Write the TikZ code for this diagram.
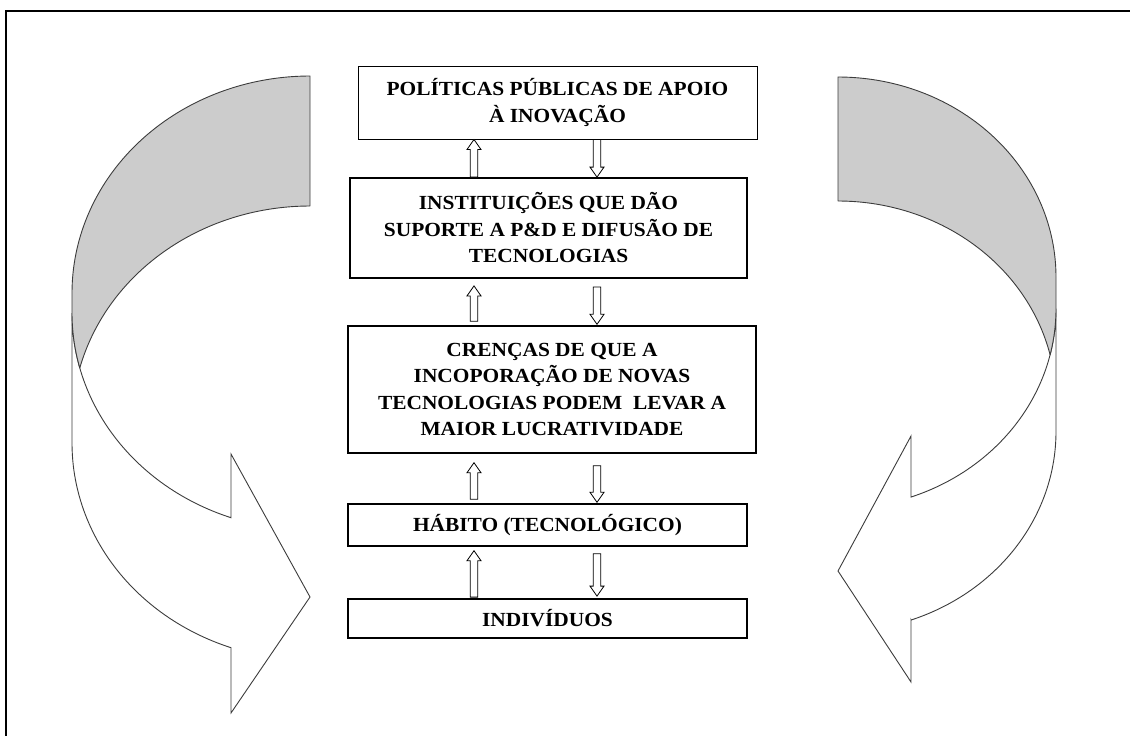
\documentclass[tikz,border=0pt]{standalone}
\usepackage{fontspec}
\setmainfont{Liberation Serif}[FakeStretch=1.07]
\usetikzlibrary{calc}
\definecolor{bandgray}{RGB}{204,204,204}
\definecolor{bandline}{RGB}{60,60,60}
\newcommand\blkup[4]{%
  \path ($(#1 -| xu)+(0,#2)$) coordinate (ub) ($(#3 -| xu)+(0,#4)$) coordinate (ut);
  \draw[blk] ($(ub)+(-3.7,0)$) -- ($(ut)+(-3.7,10)$) -- ($(ut)+(-7,10)$) -- (ut)
    -- ($(ut)+(7,10)$) -- ($(ut)+(3.7,10)$) -- ($(ub)+(3.7,0)$) -- cycle;}
\newcommand\blkdown[4]{%
  \path ($(#1 -| xd)+(0,#2)$) coordinate (db) ($(#3 -| xd)+(0,#4)$) coordinate (dt);
  \draw[blk] ($(db)+(-3.7,0)$) -- ($(dt)+(-3.7,-10)$) -- ($(dt)+(-7,-10)$) -- (dt)
    -- ($(dt)+(7,-10)$) -- ($(dt)+(3.7,-10)$) -- ($(db)+(3.7,0)$) -- cycle;}
\tikzset{
  tbox/.style={draw=black, line width=1.4pt, fill=white, inner sep=0pt, align=center,
    font=\bfseries\fontsize{20}{26.5}\selectfont},
  blk/.style={draw=black, line width=0.8pt, fill=white},
  backband/.style={draw=bandline, line width=0.9pt, fill=bandgray, line join=round},
  frontband/.style={draw=bandline, line width=0.9pt, fill=white, line join=miter},
  frame/.style={draw=black, line width=2pt}
}
\begin{document}
\begin{tikzpicture}[x=1pt,y=-1pt]
\useasboundingbox (0,0) rectangle (1130,736);
% frame (top and left edges)
\draw[frame] (6,736) -- (6,11) -- (1130,11);

% left curved arrow
\draw[frontband] (310,597) -- (231,713) -- (231,648)
  -- plot[domain=109.4:180, samples=60] ({310+238*cos(\x)},{443+217*sin(\x)})
  -- plot[domain=180:109.4, samples=60] ({310+238*cos(\x)},{313+217*sin(\x)})
  -- (231,454) -- cycle;
\draw[backband] plot[domain=270:180, samples=70] ({310+238*cos(\x)},{293+217*sin(\x)})
  -- plot[domain=180:165.32, samples=12] ({310+238*cos(\x)},{313+217*sin(\x)})
  -- plot[domain=194.68:270, samples=60] ({310+238*cos(\x)},{423+217*sin(\x)})
  -- cycle;

% right curved arrow
\draw[frontband] (838,571) -- (911,682) -- (911,620)
  -- plot[domain=70.43:0, samples=60] ({838+218*cos(\x)},{431.6+200*sin(\x)})
  -- plot[domain=0:70.43, samples=60] ({838+218*cos(\x)},{308.6+200*sin(\x)})
  -- (911,436) -- cycle;
\draw[backband] plot[domain=270:360, samples=70] ({838+218*cos(\x)},{277+200*sin(\x)})
  -- plot[domain=0:13.36, samples=12] ({838+218*cos(\x)},{308.6+200*sin(\x)})
  -- plot[domain=346.64:270, samples=60] ({838+218*cos(\x)},{401+200*sin(\x)})
  -- cycle;

% boxes
\node[tbox, line width=1pt, minimum width=399pt, minimum height=73pt] (b1) at (557.5,102.5)
  {POLÍTICAS PÚBLICAS DE APOIO\\À INOVAÇÃO};
\node[tbox, line width=1.8pt, minimum width=397pt, minimum height=100pt] (b2) at (548.5,228)
  {INSTITUIÇÕES QUE DÃO\\SUPORTE A P\&D E DIFUSÃO DE\\TECNOLOGIAS};
\node[tbox, minimum width=408pt, minimum height=127pt] (b3) at (552,389.5)
  {CRENÇAS DE QUE A\\INCOPORAÇÃO DE NOVAS\\TECNOLOGIAS PODEM\ \ LEVAR A\\MAIOR LUCRATIVIDADE};
\node[tbox, minimum width=399pt, minimum height=42pt] (b4) at (547.5,525)
  {HÁBITO (TECNOLÓGICO)};
\node[tbox, line width=1.8pt, minimum width=399pt, minimum height=39pt] (b5) at (547.5,618.5)
  {INDIVÍDUOS};

% block connectors
\coordinate (xu) at (474,0);
\coordinate (xd) at (597,0);
\blkup{b2.north}{0}{b1.south}{0}
\blkdown{b1.south}{0}{b2.north}{0}
\blkup{b3.north}{-4}{b2.south}{7}
\blkdown{b2.south}{8}{b3.north}{-1}
\blkup{b4.north}{-4}{b3.south}{9}
\blkdown{b3.south}{12}{b4.north}{-1}
\blkup{b5.north}{-1}{b4.south}{4}
\blkdown{b4.south}{7}{b5.north}{-2}
\end{tikzpicture}
\end{document}
